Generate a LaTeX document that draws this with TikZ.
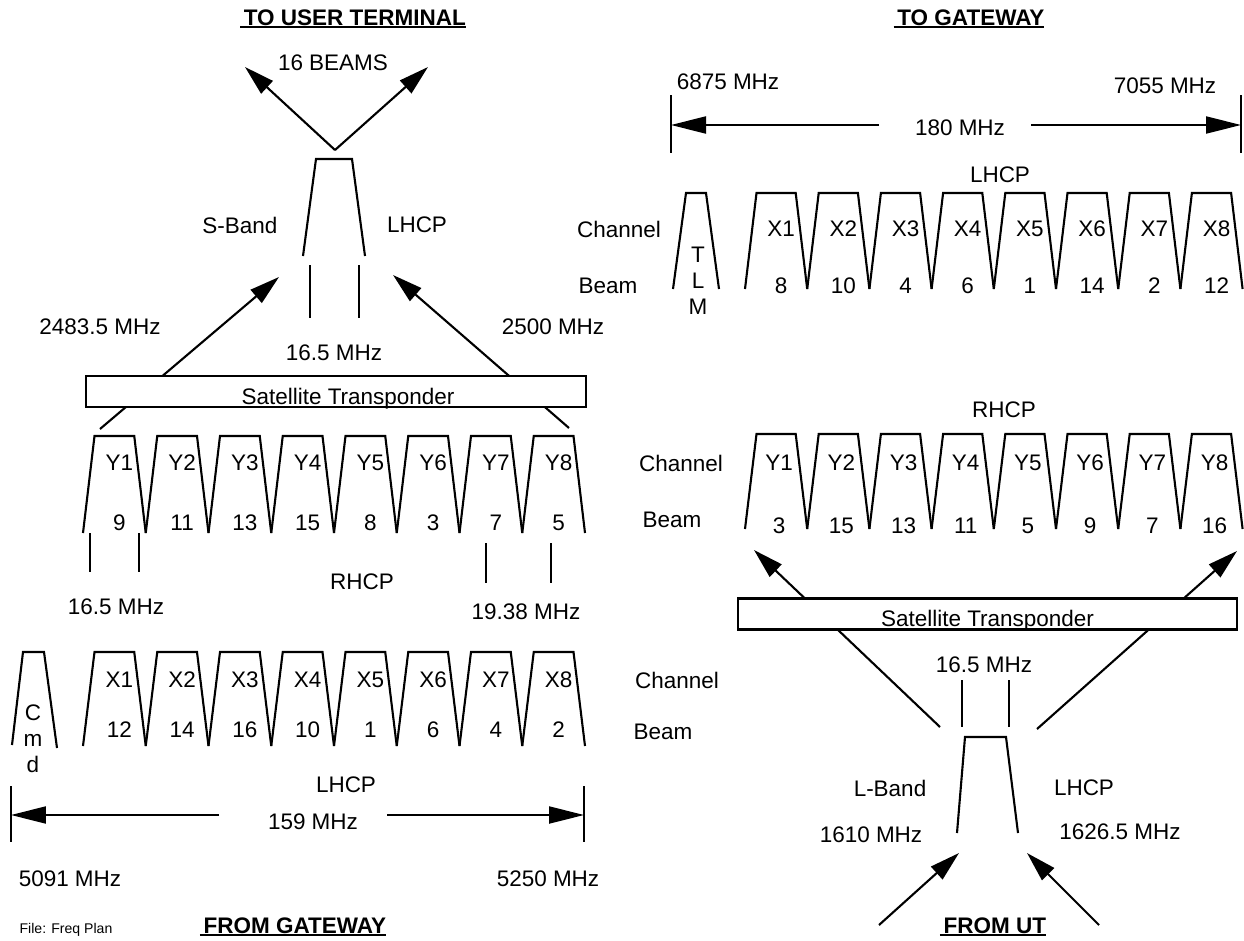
\documentclass[tikz,border=0pt]{standalone}
\usepackage{fontspec}
\setmainfont{Liberation Sans}
\usetikzlibrary{arrows.meta}
\newcommand{\hdr}[1]{\setbox0\hbox{\bfseries\,#1}\rlap{\rule[-1.8pt]{\wd0}{1.3pt}}\box0}
\newcommand{\chanrow}[4]{% x0, pitch, ytop, ybot
  \foreach \k in {0,...,7}
    \draw[chan] ({#1+#2*\k},#4) -- ({#1+#2*\k+11.5},#3)
      -- ({#1+#2*(\k+1)-11.5},#3) -- ({#1+#2*(\k+1)},#4);}
\tikzset{
  lbl/.style ={font=\fontsize{12.8}{15}\selectfont, inner sep=0pt},
  ttl/.style ={font=\fontsize{12.8}{15}\selectfont, inner sep=0pt},
  fname/.style={font=\fontsize{8}{9}\selectfont, inner sep=0pt},
  stack/.style={lbl, align=center, font=\fontsize{12.8}{14.8}\selectfont},
  chan/.style ={line width=1.2pt, line join=miter},
  bar/.style  ={line width=1.2pt},
  tbox/.style ={draw, fill=white, line width=1.2pt, inner sep=0pt,
                minimum height=0.62cm, text height=0.56cm, text depth=0.06cm,
                font=\fontsize{12.8}{15}\selectfont},
  sig/.style  ={-{Triangle[length=0.6cm, width=0.34cm]}, line width=1.2pt},
  dim/.style  ={-{Triangle[length=0.7cm, width=0.34cm]}, line width=1.2pt},
}
\begin{document}
\begin{tikzpicture}[x=0.02cm, y=-0.02cm]
  \useasboundingbox (0,0) rectangle (1244,940);

  % ---- downlink to user terminal (S-band)
  \node[ttl] (tUT) at (353,19) {\hdr{TO USER TERMINAL}};
  \node[lbl] (nBeams) at (333,63) {16 BEAMS};
  \coordinate (apx) at (335,150);
  \coordinate (bmL) at (245,67);
  \coordinate (bmR) at (428,67);
  \draw[sig] (apx) -- (bmL);
  \draw[sig] (apx) -- (bmR);
  \draw[chan] (303,256) -- (316,159) -- (352,159) -- (365,256);
  \node[lbl] (sBand) at (240,225) {S-Band};
  \node[lbl] (sPol) at (417,225) {LHCP};
  \coordinate (sw1) at (310,265); \coordinate (sw1e) at (310,318);
  \coordinate (sw2) at (359,265); \coordinate (sw2e) at (359,318);
  \draw[bar] (sw1) -- (sw1e);
  \draw[bar] (sw2) -- (sw2e);
  \node[lbl] (fS1) at (100,327) {2483.5 MHz};
  \node[lbl] (fS2) at (553,327) {2500 MHz};
  \node[lbl] (bwS) at (334,353) {16.5 MHz};

  \coordinate (yL) at (100,429);
  \coordinate (sL) at (279,277);
  \coordinate (yR) at (569,428);
  \coordinate (sR) at (393,275);
  \draw[sig] (yL) -- (sL);
  \draw[sig] (yR) -- (sR);
  \node[tbox, minimum width=10cm] (tpL) at (336,391.5)
    {\hspace*{0.48cm}Satellite Transponder};

  % ---- C-band feeder uplink, Y channels (RHCP)
  \chanrow{83}{62.75}{436}{533}
  \foreach \c/\b [count=\i from 0] in {Y1/9,Y2/11,Y3/13,Y4/15,Y5/8,Y6/3,Y7/7,Y8/5} {
    \node[lbl] (ly\i) at ({83+62.75*(\i+0.5)+5},463) {\c};
    \node[lbl] (by\i) at ({83+62.75*(\i+0.5)+5},523) {\b};
  }
  \coordinate (t1) at (90,533);  \coordinate (t1e) at (90,572);
  \coordinate (t2) at (139,533); \coordinate (t2e) at (139,572);
  \coordinate (t3) at (486,543); \coordinate (t3e) at (486,583);
  \coordinate (t4) at (551,543); \coordinate (t4e) at (551,583);
  \draw[bar] (t1) -- (t1e);
  \draw[bar] (t2) -- (t2e);
  \draw[bar] (t3) -- (t3e);
  \draw[bar] (t4) -- (t4e);
  \node[lbl] (bwY) at (116,607) {16.5 MHz};
  \node[lbl] (pY) at (362,582) {RHCP};
  \node[lbl] (bwY2) at (526,612) {19.38 MHz};

  % ---- X channels (LHCP)
  \chanrow{83}{62.75}{652}{746}
  \draw[chan] (12,745) -- (23,652) -- (44,652) -- (57,748);
  \node[stack] (cmd) at (33,739) {C\\m\\d};
  \foreach \c/\b [count=\i from 0] in {X1/12,X2/14,X3/16,X4/10,X5/1,X6/6,X7/4,X8/2} {
    \node[lbl] (lx\i) at ({83+62.75*(\i+0.5)+5},680) {\c};
    \node[lbl] (bx\i) at ({83+62.75*(\i+0.5)+5},730) {\b};
  }
  \node[lbl] (chX) at (677,680) {Channel};
  \node[lbl] (bmX) at (663,732) {Beam};
  \node[lbl] (pX) at (346,785) {LHCP};

  \coordinate (dA) at (11,786); \coordinate (dAe) at (11,842);
  \coordinate (dB) at (584,786); \coordinate (dBe) at (584,842);
  \draw[bar] (dA) -- (dAe);
  \draw[bar] (dB) -- (dBe);
  \coordinate (aA) at (219,815); \coordinate (aAe) at (11,815);
  \coordinate (aB) at (387,815); \coordinate (aBe) at (584,815);
  \draw[dim] (aA) -- (aAe);
  \draw[dim] (aB) -- (aBe);
  \node[lbl] (bwC) at (313,822) {159 MHz};
  \node[lbl] (fC1) at (70,879) {5091 MHz};
  \node[lbl] (fC2) at (548,879) {5250 MHz};
  \node[fname] (file) at (66,930) {File: Freq Plan};
  \node[ttl] (fGW) at (293,927) {\hdr{FROM GATEWAY}};

  % ---- C-band feeder downlink to gateway
  \node[ttl] (tGW) at (969,19) {\hdr{TO GATEWAY}};
  \node[lbl] (fG1) at (728,82) {6875 MHz};
  \node[lbl] (fG2) at (1165,86) {7055 MHz};
  \coordinate (gA) at (671,95);  \coordinate (gAe) at (671,153);
  \coordinate (gB) at (1241,95); \coordinate (gBe) at (1241,153);
  \draw[bar] (gA) -- (gAe);
  \draw[bar] (gB) -- (gBe);
  \coordinate (hA) at (879,125);  \coordinate (hAe) at (671,125);
  \coordinate (hB) at (1031,125); \coordinate (hBe) at (1241,125);
  \draw[dim] (hA) -- (hAe);
  \draw[dim] (hB) -- (hBe);
  \node[lbl] (bwG) at (960,128) {180 MHz};
  \node[lbl] (pG) at (1000,175) {LHCP};

  \draw[chan] (673,289) -- (686,193) -- (706,193) -- (719,289);
  \node[stack] (tlm) at (698,281) {T\\L\\M};
  \chanrow{745}{62.2}{193}{289}
  \foreach \c/\b [count=\i from 0] in {X1/8,X2/10,X3/4,X4/6,X5/1,X6/14,X7/2,X8/12} {
    \node[lbl] (gx\i) at ({745+62.2*(\i+0.5)+5},229) {\c};
    \node[lbl] (gb\i) at ({745+62.2*(\i+0.5)+5},286) {\b};
  }
  \node[lbl] (chG) at (619,229) {Channel};
  \node[lbl] (bmG) at (608,286) {Beam};

  % ---- L-band return from user terminal
  \node[lbl] (pR) at (1004,410) {RHCP};
  \chanrow{745}{62.2}{434}{529}
  \foreach \c/\b [count=\i from 0] in {Y1/3,Y2/15,Y3/13,Y4/11,Y5/5,Y6/9,Y7/7,Y8/16} {
    \node[lbl] (ry\i) at ({745+62.2*(\i+0.5)+3},463) {\c};
    \node[lbl] (rb\i) at ({745+62.2*(\i+0.5)+3},526) {\b};
  }
  \node[lbl] (chR) at (681,463) {Channel};
  \node[lbl] (bmR) at (672,520) {Beam};

  \coordinate (lL) at (940,727);
  \coordinate (rL) at (754,550);
  \coordinate (lR) at (1037,729);
  \coordinate (rR) at (1237,551);
  \draw[sig] (lL) -- (rL);
  \draw[sig] (lR) -- (rR);
  \node[tbox, minimum width=9.98cm] (tpR) at (987.5,614) {Satellite Transponder};

  \node[lbl] (bwL) at (984,665) {16.5 MHz};
  \coordinate (u1) at (962,680);  \coordinate (u1e) at (962,727);
  \coordinate (u2) at (1009,680); \coordinate (u2e) at (1009,727);
  \draw[bar] (u1) -- (u1e);
  \draw[bar] (u2) -- (u2e);
  \draw[chan] (957,833) -- (965,737) -- (1006,737) -- (1018,833);
  \node[lbl] (lBand) at (890,788) {L-Band};
  \node[lbl] (lPol) at (1084,788) {LHCP};
  \node[lbl] (fL1) at (871,835) {1610 MHz};
  \node[lbl] (fL2) at (1120,832) {1626.5 MHz};
  \coordinate (ut1) at (879,925); \coordinate (lt1) at (959,853);
  \coordinate (ut2) at (1099,925); \coordinate (lt2) at (1027,853);
  \draw[sig] (ut1) -- (lt1);
  \draw[sig] (ut2) -- (lt2);
  \node[ttl] (fUT) at (993,927) {\hdr{FROM UT}};
\end{tikzpicture}
\end{document}
